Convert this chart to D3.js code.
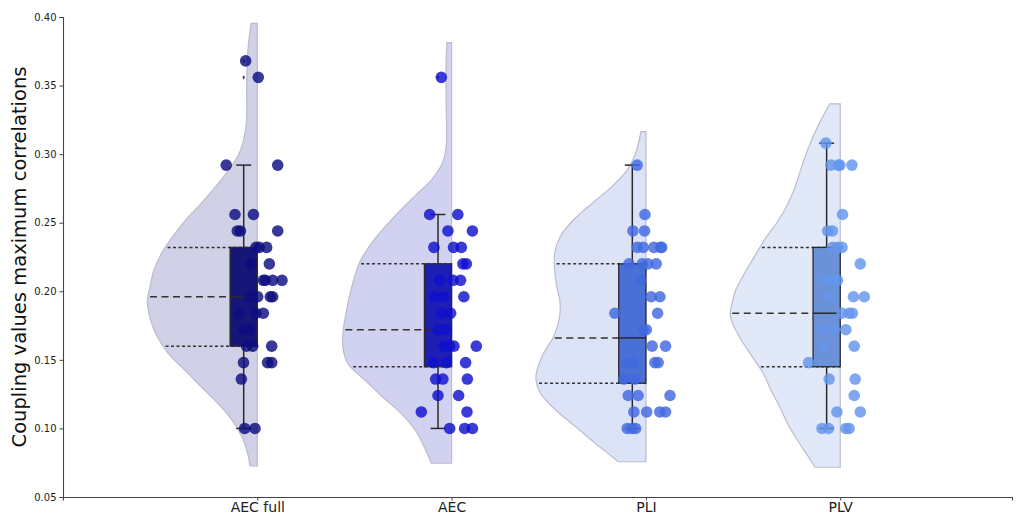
<!DOCTYPE html>
<html>
<head>
<meta charset="utf-8">
<script src="https://cdn.jsdelivr.net/npm/d3@7"></script>
<style>
  body { margin: 0; background: #fff; }
  .chart text { font-family: "DejaVu Sans", sans-serif; }
</style>
</head>
<body>
<div class="chart"></div>
<script>
var options = {
    width: 1022,
    height: 517,
    left: 63,
    right: 1012,
    top: 17,
    bottom: 497
};

// categories and axis ticks
var categories = ["AEC full", "AEC", "PLI", "PLV"];
var yTicks = [0.05, 0.10, 0.15, 0.20, 0.25, 0.30, 0.35, 0.40];

// box statistics per category
var q1Values = [0.160, 0.145, 0.133, 0.145];
var medianValues = [0.196, 0.172, 0.166, 0.184];
var q3Values = [0.232, 0.220, 0.220, 0.232];
var whiskerLow = [0.100, 0.100, 0.100, 0.100];
var whiskerHigh = [0.292, 0.256, 0.292, 0.308];
var outliers = [[0.368, 0.356], [0.356], [], []];

// half violin outlines: [value, relative width]
var violinAecFull = [[0.3954,0.057],[0.3735,0.088],[0.349,0.097],[0.325,0.097],[0.3127,0.118],[0.3006,0.164],[0.2884,0.26],[0.2763,0.38],[0.2641,0.51],[0.252,0.65],[0.2398,0.77],[0.2277,0.87],[0.2155,0.94],[0.2034,0.975],[0.1936,1.0],[0.179,0.97],[0.1669,0.91],[0.1548,0.81],[0.1426,0.66],[0.1304,0.51],[0.1183,0.36],[0.1061,0.23],[0.094,0.14],[0.0819,0.088],[0.0726,0.066]];
var violinAec = [[0.3813,0.043],[0.3662,0.05],[0.3419,0.05],[0.3176,0.046],[0.3054,0.05],[0.2933,0.085],[0.2811,0.185],[0.269,0.34],[0.2569,0.49],[0.2447,0.63],[0.2326,0.75],[0.2204,0.84],[0.2082,0.89],[0.1961,0.93],[0.1839,0.96],[0.1718,0.985],[0.1596,0.99],[0.1475,0.945],[0.1353,0.79],[0.1231,0.63],[0.111,0.46],[0.0988,0.33],[0.0867,0.25],[0.0746,0.185]];
var violinPli = [[0.3164,0.045],[0.3006,0.094],[0.2884,0.17],[0.2763,0.31],[0.2641,0.49],[0.252,0.66],[0.2398,0.78],[0.2277,0.83],[0.2155,0.83],[0.2034,0.81],[0.1912,0.78],[0.1791,0.79],[0.1669,0.84],[0.1548,0.93],[0.1426,0.99],[0.1353,1.0],[0.1256,0.96],[0.1134,0.82],[0.1013,0.64],[0.0891,0.46],[0.0757,0.25]];
var violinPlv = [[0.3366,0.097],[0.3225,0.19],[0.3103,0.26],[0.2981,0.32],[0.286,0.37],[0.2739,0.42],[0.2617,0.49],[0.2496,0.58],[0.2374,0.69],[0.2253,0.78],[0.2131,0.87],[0.2009,0.95],[0.1888,0.99],[0.1839,1.0],[0.1766,0.98],[0.1645,0.9],[0.1523,0.8],[0.1402,0.7],[0.128,0.63],[0.1158,0.55],[0.1037,0.48],[0.0916,0.39],[0.0794,0.29],[0.0717,0.23]];

// strip points: [value, jitter offset in category units]
var pointsAecFull = [[0.368,-0.06],[0.356,0.005],[0.292,-0.16],[0.292,0.105],[0.256,-0.115],[0.256,-0.02],[0.244,-0.103],[0.244,-0.087],[0.244,0.105],[0.232,-0.007],[0.232,0.01],[0.232,0.048],[0.220,-0.036],[0.220,0.062],[0.208,0.031],[0.208,0.041],[0.208,0.079],[0.208,0.127],[0.196,-0.041],[0.196,0.002],[0.196,0.067],[0.196,0.079],[0.184,-0.093],[0.184,-0.007],[0.184,0.031],[0.172,-0.071],[0.172,-0.041],[0.160,-0.055],[0.160,-0.024],[0.160,0.074],[0.148,-0.071],[0.148,0.053],[0.148,0.074],[0.136,-0.082],[0.100,-0.065],[0.100,-0.012]];
var pointsAec = [[0.356,-0.053],[0.256,-0.113],[0.256,0.032],[0.244,-0.019],[0.244,0.107],[0.232,-0.091],[0.232,0.01],[0.232,0.05],[0.220,0.058],[0.220,0.076],[0.208,-0.062],[0.208,0.007],[0.208,0.046],[0.196,-0.087],[0.196,-0.04],[0.196,0.063],[0.184,-0.053],[0.184,-0.005],[0.172,-0.07],[0.172,-0.03],[0.160,-0.04],[0.160,-0.01],[0.160,0.012],[0.160,0.127],[0.148,-0.093],[0.148,-0.027],[0.148,0.072],[0.136,-0.082],[0.136,-0.045],[0.136,0.081],[0.124,-0.07],[0.124,0.036],[0.112,-0.156],[0.112,0.079],[0.100,-0.01],[0.100,0.067],[0.100,0.107]];
var pointsPli = [[0.292,-0.045],[0.256,-0.005],[0.244,-0.067],[0.244,-0.007],[0.232,-0.045],[0.232,-0.014],[0.232,0.041],[0.232,0.076],[0.232,0.081],[0.220,-0.087],[0.220,-0.019],[0.220,0.01],[0.220,0.053],[0.208,-0.027],[0.196,0.027],[0.196,0.072],[0.184,-0.16],[0.184,0.06],[0.172,-0.014],[0.172,0.002],[0.160,0.032],[0.160,0.101],[0.148,-0.099],[0.148,-0.062],[0.148,0.046],[0.148,0.063],[0.136,-0.113],[0.136,-0.057],[0.124,-0.091],[0.124,-0.04],[0.124,0.124],[0.112,-0.062],[0.112,0.004],[0.112,0.071],[0.112,0.101],[0.100,-0.096],[0.100,-0.071],[0.100,-0.053]];
var pointsPlv = [[0.308,-0.074],[0.292,-0.048],[0.292,-0.009],[0.292,-0.002],[0.292,0.06],[0.256,0.012],[0.244,-0.065],[0.244,-0.04],[0.232,-0.04],[0.232,-0.014],[0.232,0.009],[0.220,0.103],[0.208,-0.074],[0.208,-0.043],[0.208,-0.014],[0.196,-0.057],[0.196,0.068],[0.196,0.124],[0.184,0.009],[0.184,0.046],[0.184,0.063],[0.172,-0.091],[0.172,-0.031],[0.172,0.029],[0.160,-0.082],[0.160,0.072],[0.148,-0.163],[0.136,-0.057],[0.136,0.077],[0.124,0.072],[0.112,-0.017],[0.112,0.103],[0.100,-0.094],[0.100,-0.06],[0.100,0.029],[0.100,0.046]];

var violins = [violinAecFull, violinAec, violinPli, violinPlv];
var points = [pointsAecFull, pointsAec, pointsPli, pointsPlv];

var violinFill = ["#d0d0e6", "#d1d1f1", "#dde3f7", "#e1e9f8"];
var boxFill = ["#15157a", "#1e1eb4", "#4b70d5", "#6b91d9"];
var pointFill = ["#0e0e80", "#1010d0", "#4169e1", "#6495ed"];

var violinWidth = 0.566, boxWidth = 0.14, capWidth = 0.077;

var svg = d3.select(".chart").append("svg")
            .attr("width", options.width)
            .attr("height", options.height);

var xScale = d3.scaleLinear()
                .domain([-1, 3.884])
                .range([options.left, options.right]);

var yScale = d3.scaleLinear()
                .domain([0.05, 0.40])
                .range([options.bottom, options.top]);

// width of the violin at a given value (linear between outline points)
function violinAt(outline, v) {
    for (var i = 0; i < outline.length - 1; i++) {
        var a = outline[i], b = outline[i + 1];
        if (v <= a[0] && v >= b[0]) {
            var t = (a[0] - v) / (a[0] - b[0]);
            return a[1] + t * (b[1] - a[1]);
        }
    }
    return 0;
}

categories.forEach(function(cat, i) {
    var g = svg.append("g");
    var right = xScale(i);
    var unit = xScale(1) - xScale(0);

    var area = d3.area()
        .y(function(d) { return yScale(d[0]); })
        .x0(function(d) { return right - d[1] * violinWidth * unit; })
        .x1(right)
        .curve(d3.curveCatmullRom);

    g.append("path")
        .datum(violins[i])
        .attr("d", area)
        .attr("fill", violinFill[i])
        .attr("stroke", "#bcbccc")
        .attr("stroke-width", 1.2);

    // quartile lines inside the violin
    [[q1Values[i], "3,2.5"], [medianValues[i], "7,4.5"], [q3Values[i], "3,2.5"]].forEach(function(q) {
        var w = violinAt(violins[i], q[0]) * violinWidth * unit;
        g.append("line")
            .attr("x1", right - w + 2)
            .attr("x2", right)
            .attr("y1", yScale(q[0]))
            .attr("y2", yScale(q[0]))
            .attr("stroke", "#333")
            .attr("stroke-width", 1.5)
            .attr("stroke-dasharray", q[1]);
    });

    var cx = xScale(i - boxWidth / 2);

    // whiskers
    g.append("line")
        .attr("x1", cx).attr("x2", cx)
        .attr("y1", yScale(whiskerHigh[i])).attr("y2", yScale(whiskerLow[i]))
        .attr("stroke", "#2a2a2a").attr("stroke-width", 1.5);
    [whiskerLow[i], whiskerHigh[i]].forEach(function(v) {
        g.append("line")
            .attr("x1", xScale(i - boxWidth / 2 - capWidth / 2))
            .attr("x2", xScale(i - boxWidth / 2 + capWidth / 2))
            .attr("y1", yScale(v)).attr("y2", yScale(v))
            .attr("stroke", "#2a2a2a").attr("stroke-width", 1.5);
    });

    // box
    g.append("rect")
        .attr("x", xScale(i - boxWidth))
        .attr("y", yScale(q3Values[i]))
        .attr("width", xScale(i) - xScale(i - boxWidth))
        .attr("height", yScale(q1Values[i]) - yScale(q3Values[i]))
        .attr("fill", boxFill[i])
        .attr("stroke", "#2a2a2a")
        .attr("stroke-width", 1.3);

    g.append("line")
        .attr("x1", xScale(i - boxWidth)).attr("x2", xScale(i))
        .attr("y1", yScale(medianValues[i])).attr("y2", yScale(medianValues[i]))
        .attr("stroke", "#2a2a2a").attr("stroke-width", 1.5);

    // fliers
    g.selectAll(".flier").data(outliers[i]).enter().append("path")
        .attr("class", "flier")
        .attr("d", d3.symbol().type(d3.symbolDiamond).size(5))
        .attr("transform", function(d) { return "translate(" + cx + "," + yScale(d) + ")"; })
        .attr("fill", "#333");

    // strip points
    g.selectAll(".pt").data(points[i]).enter().append("circle")
        .attr("class", "pt")
        .attr("cx", function(d) { return xScale(i + d[1]); })
        .attr("cy", function(d) { return yScale(d[0]); })
        .attr("r", 5.8)
        .attr("fill", pointFill[i])
        .attr("fill-opacity", 0.82);
});

// axes
var yAxis = d3.axisLeft(yScale).tickValues(yTicks).tickFormat(d3.format(".2f")).tickSize(3.5).tickPadding(3);
var xAxis = d3.axisBottom(xScale).tickValues(d3.range(categories.length))
                .tickFormat(function(d) { return categories[d]; }).tickSize(3.5).tickPadding(2);

var gy = svg.append("g")
    .attr("transform", "translate(" + options.left + ",0)")
    .call(yAxis);
gy.selectAll("text").attr("font-size", "10px").attr("fill", "#222");

var gx = svg.append("g")
    .attr("transform", "translate(0," + options.bottom + ")")
    .call(xAxis);
gx.selectAll("text").attr("font-size", "14px").attr("fill", "#222");

svg.selectAll(".domain").attr("stroke", "#444").attr("stroke-width", 1.1);
svg.selectAll(".tick line").attr("stroke", "#444");

svg.append("text")
    .attr("transform", "translate(26," + ((options.top + options.bottom) / 2) + ") rotate(-90)")
    .attr("text-anchor", "middle")
    .attr("font-size", "19.5px")
    .attr("fill", "#111")
    .text("Coupling values maximum correlations");
</script>
</body>
</html>
